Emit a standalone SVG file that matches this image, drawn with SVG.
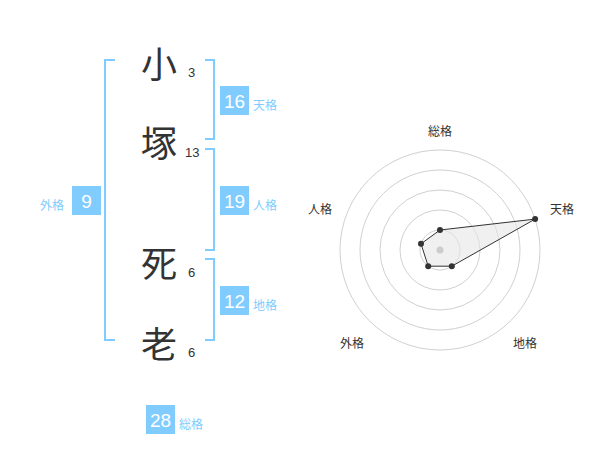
<svg xmlns="http://www.w3.org/2000/svg" width="600" height="470" viewBox="0 0 600 470">
<style>
.big{font-family:"Noto Sans CJK JP","Noto Sans CJK SC",sans-serif;font-size:36px;fill:#333;text-anchor:middle;dominant-baseline:central}
.num{font-family:"Liberation Sans",Arial,sans-serif;font-size:13px;fill:#333}
.br{fill:none;stroke:#80ccff;stroke-width:2}
.box{fill:#80ccff}
.bt{font-family:"Liberation Sans",Arial,sans-serif;font-size:19px;fill:#fff;text-anchor:middle;dominant-baseline:central}
.lb{font-family:"Noto Sans CJK JP","Noto Sans CJK SC",sans-serif;font-size:12px;fill:#80ccff;dominant-baseline:central}
.rl{font-family:"Noto Sans CJK JP","Noto Sans CJK SC",sans-serif;font-size:12px;fill:#333;text-anchor:middle;dominant-baseline:central}
.ring{fill:none;stroke:#d0d0d0;stroke-width:1}
.pt{fill:#333}
</style>
<rect width="600" height="470" fill="#fff"/>
<g id="chars">
<g id="c1"><text class="big" x="159" y="62">小</text><text class="num" x="188" y="77">3</text></g>
<g id="c2"><text class="big" x="159" y="141">塚</text><text class="num" x="185" y="157">13</text></g>
<g id="c3"><text class="big" x="159" y="261">死</text><text class="num" x="188" y="277">6</text></g>
<g id="c4"><text class="big" x="159" y="342">老</text><text class="num" x="188" y="357">6</text></g>
</g>
<g id="connectors">
<path class="br" d="M115,60 H105 V340 H115"/>
<path class="br" d="M205,60 H214 V139 H205"/>
<path class="br" d="M205,149 H214 V250 H205"/>
<path class="br" d="M205,259 H214 V340 H205"/>
</g>
<g id="tenkaku"><rect class="box" x="220" y="86" width="29" height="29"/><text class="bt" x="234.5" y="101">16</text><text class="lb" x="253" y="104">天格</text></g>
<g id="jinkaku"><rect class="box" x="220" y="186" width="29" height="29"/><text class="bt" x="234.5" y="201">19</text><text class="lb" x="253" y="204">人格</text></g>
<g id="chikaku"><rect class="box" x="220" y="286" width="29" height="29"/><text class="bt" x="234.5" y="301">12</text><text class="lb" x="253" y="304">地格</text></g>
<g id="gaikaku"><rect class="box" x="72" y="186" width="29" height="29"/><text class="bt" x="86.5" y="201">9</text><text class="lb" x="40" y="204">外格</text></g>
<g id="soukaku"><rect class="box" x="146" y="405" width="29" height="29"/><text class="bt" x="160.5" y="420">28</text><text class="lb" x="179" y="423">総格</text></g>
<g id="radar">
<circle class="ring" cx="440" cy="250" r="20"/>
<circle class="ring" cx="440" cy="250" r="40"/>
<circle class="ring" cx="440" cy="250" r="60"/>
<circle class="ring" cx="440" cy="250" r="80"/>
<circle class="ring" cx="440" cy="250" r="100"/>
<polygon points="440,230 535.1,219.1 451.8,266.2 428.2,266.2 421,243.8" fill="#e6e6e6" fill-opacity="0.6" stroke="#333" stroke-width="1"/>
<circle cx="440" cy="250" r="3.5" fill="#ccc"/>
<circle class="pt" cx="440" cy="230" r="3"/>
<circle class="pt" cx="535.1" cy="219.1" r="3"/>
<circle class="pt" cx="451.8" cy="266.2" r="3"/>
<circle class="pt" cx="428.2" cy="266.2" r="3"/>
<circle class="pt" cx="421" cy="243.8" r="3"/>
<text class="rl" x="440" y="130">総格</text>
<text class="rl" x="562" y="208">天格</text>
<text class="rl" x="320" y="208">人格</text>
<text class="rl" x="352" y="342">外格</text>
<text class="rl" x="525" y="342">地格</text>
</g>
</svg>
